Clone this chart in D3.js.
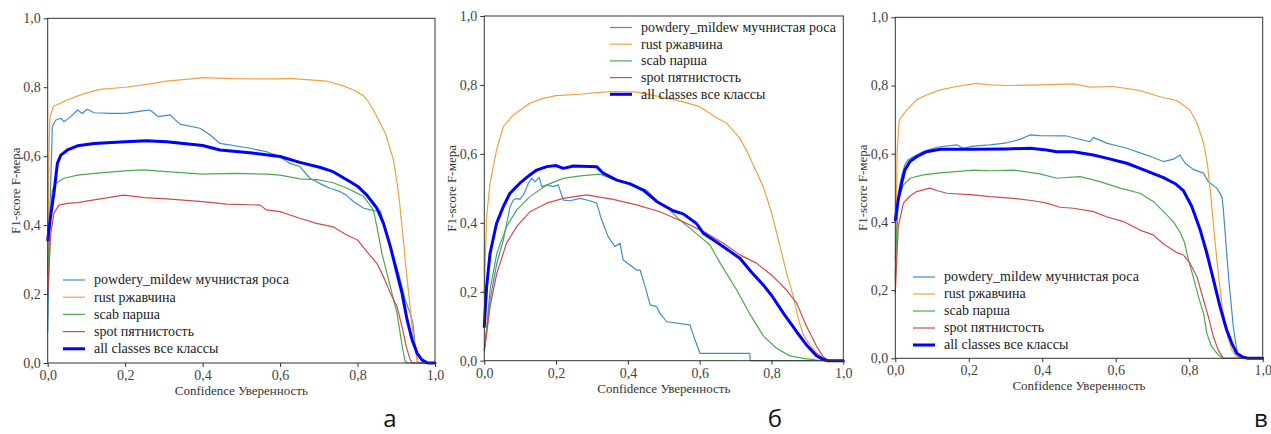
<!DOCTYPE html>
<html>
<head>
<meta charset="utf-8">
<script src="https://cdn.jsdelivr.net/npm/d3@7"></script>
<style>
  html, body { margin: 0; padding: 0; background: #fff; }
  svg { display: block; }
  .serif { font-family: 'Liberation Serif', 'Times New Roman', Tinos, 'DejaVu Serif', 'Noto Serif', serif; }
</style>
</head>
<body>
<svg id="chart" width="1271" height="434"></svg>
<script>
// class names (legend order)
const classNames = [
  'powdery_mildew мучнистая роса',
  'rust ржавчина',
  'scab парша',
  'spot пятнистость',
  'all classes все классы',
];
const panelLetters = ['а', 'б', 'в'];
const axisTicks = [0, 0.2, 0.4, 0.6, 0.8, 1.0];
const xLabel = 'Confidence Уверенность';
const yLabel = 'F1-score F-мера';

// panel а : [confidence, F1]
const powderyA = [[0,0.09],[0.006,0.45],[0.012,0.686],[0.021,0.705],[0.034,0.71],[0.042,0.70],[0.059,0.714],[0.077,0.734],[0.089,0.724],[0.102,0.736],[0.12,0.726],[0.163,0.724],[0.2,0.724],[0.249,0.732],[0.264,0.734],[0.285,0.715],[0.316,0.72],[0.341,0.693],[0.393,0.681],[0.419,0.662],[0.445,0.637],[0.522,0.623],[0.565,0.613],[0.6,0.599],[0.625,0.579],[0.651,0.57],[0.677,0.536],[0.711,0.516],[0.729,0.507],[0.755,0.497],[0.771,0.487],[0.79,0.468],[0.816,0.449],[0.841,0.442],[0.859,0.441],[0.872,0.386],[0.893,0.308],[0.906,0.26],[0.923,0.183],[0.936,0.144],[0.943,0.115],[0.949,0.047],[0.955,0.004],[0.96,0],[1,0]];
const rustA = [[0,0.25],[0.003,0.6],[0.006,0.715],[0.015,0.744],[0.05,0.763],[0.09,0.78],[0.135,0.794],[0.2,0.80],[0.264,0.81],[0.307,0.818],[0.37,0.824],[0.4,0.828],[0.479,0.825],[0.6,0.824],[0.625,0.826],[0.72,0.818],[0.763,0.804],[0.79,0.792],[0.816,0.775],[0.83,0.755],[0.841,0.734],[0.872,0.666],[0.893,0.589],[0.906,0.492],[0.915,0.395],[0.923,0.299],[0.932,0.202],[0.941,0.105],[0.949,0.038],[0.955,0.004],[0.96,0],[1,0]];
const scabA = [[0,0.26],[0.006,0.42],[0.012,0.502],[0.021,0.521],[0.042,0.536],[0.077,0.545],[0.12,0.55],[0.206,0.558],[0.247,0.56],[0.307,0.555],[0.4,0.548],[0.479,0.55],[0.565,0.548],[0.6,0.545],[0.651,0.534],[0.702,0.531],[0.737,0.523],[0.773,0.507],[0.8,0.492],[0.816,0.483],[0.841,0.444],[0.85,0.395],[0.863,0.318],[0.876,0.26],[0.889,0.202],[0.902,0.144],[0.91,0.086],[0.917,0.038],[0.923,0.004],[0.93,0],[1,0]];
const spotA = [[0,0.202],[0.008,0.376],[0.016,0.434],[0.029,0.458],[0.051,0.463],[0.077,0.465],[0.12,0.473],[0.18,0.484],[0.197,0.487],[0.249,0.48],[0.307,0.476],[0.4,0.468],[0.462,0.461],[0.548,0.458],[0.565,0.444],[0.6,0.439],[0.651,0.42],[0.694,0.405],[0.737,0.395],[0.771,0.372],[0.8,0.357],[0.824,0.323],[0.85,0.289],[0.867,0.25],[0.885,0.202],[0.902,0.163],[0.915,0.105],[0.926,0.047],[0.936,0.009],[0.942,0],[1,0]];
const allA = [[0,0.357],[0.008,0.43],[0.016,0.492],[0.025,0.579],[0.034,0.603],[0.051,0.618],[0.077,0.63],[0.12,0.637],[0.2,0.642],[0.255,0.645],[0.307,0.642],[0.4,0.631],[0.445,0.618],[0.522,0.61],[0.6,0.599],[0.651,0.582],[0.702,0.568],[0.737,0.555],[0.781,0.526],[0.8,0.513],[0.824,0.487],[0.85,0.449],[0.867,0.405],[0.885,0.337],[0.902,0.26],[0.915,0.202],[0.928,0.125],[0.941,0.067],[0.954,0.028],[0.966,0.009],[0.979,0.001],[0.99,0],[1,0]];

// panel б
const powderyB = [[0,0.031],[0.016,0.176],[0.035,0.283],[0.053,0.35],[0.072,0.447],[0.081,0.466],[0.09,0.471],[0.099,0.468],[0.109,0.481],[0.123,0.515],[0.132,0.529],[0.141,0.519],[0.153,0.532],[0.16,0.505],[0.174,0.51],[0.192,0.505],[0.206,0.51],[0.22,0.466],[0.239,0.464],[0.267,0.471],[0.294,0.464],[0.313,0.457],[0.327,0.408],[0.345,0.36],[0.364,0.331],[0.378,0.341],[0.387,0.292],[0.424,0.263],[0.434,0.263],[0.448,0.215],[0.462,0.162],[0.48,0.157],[0.489,0.138],[0.508,0.113],[0.573,0.104],[0.582,0.075],[0.601,0.021],[0.74,0.021],[0.7405,0],[1,0]];
const rustB = [[0,0.195],[0.0065,0.418],[0.016,0.515],[0.034,0.611],[0.053,0.679],[0.081,0.713],[0.127,0.747],[0.164,0.761],[0.2,0.769],[0.266,0.773],[0.331,0.779],[0.369,0.781],[0.424,0.779],[0.499,0.764],[0.554,0.751],[0.6,0.737],[0.647,0.705],[0.675,0.689],[0.712,0.645],[0.735,0.6],[0.757,0.55],[0.777,0.505],[0.8,0.43],[0.824,0.331],[0.842,0.254],[0.861,0.186],[0.875,0.12],[0.889,0.075],[0.907,0.045],[0.926,0.023],[0.944,0.007],[0.955,0],[1,0]];
const scabB = [[0,0.03],[0.007,0.1],[0.016,0.205],[0.035,0.312],[0.062,0.389],[0.09,0.437],[0.127,0.476],[0.174,0.51],[0.22,0.529],[0.267,0.536],[0.322,0.541],[0.359,0.526],[0.406,0.515],[0.434,0.5],[0.452,0.495],[0.489,0.457],[0.517,0.437],[0.545,0.408],[0.601,0.36],[0.629,0.335],[0.657,0.283],[0.703,0.205],[0.74,0.135],[0.777,0.072],[0.814,0.036],[0.851,0.014],[0.889,0.007],[0.926,0.002],[0.95,0],[1,0]];
const spotB = [[0,0.03],[0.002,0.041],[0.016,0.157],[0.035,0.254],[0.062,0.341],[0.09,0.389],[0.127,0.432],[0.174,0.457],[0.22,0.471],[0.285,0.481],[0.313,0.476],[0.359,0.468],[0.424,0.452],[0.489,0.432],[0.554,0.403],[0.619,0.37],[0.666,0.341],[0.712,0.307],[0.758,0.283],[0.805,0.244],[0.842,0.205],[0.87,0.167],[0.898,0.099],[0.926,0.041],[0.944,0.012],[0.958,0],[1,0]];
const allB = [[0,0.099],[0.0065,0.215],[0.016,0.311],[0.034,0.398],[0.053,0.447],[0.071,0.485],[0.099,0.515],[0.127,0.539],[0.146,0.553],[0.174,0.563],[0.2,0.566],[0.22,0.558],[0.248,0.565],[0.313,0.563],[0.331,0.544],[0.369,0.524],[0.406,0.513],[0.443,0.495],[0.48,0.462],[0.526,0.435],[0.554,0.426],[0.591,0.398],[0.61,0.37],[0.656,0.338],[0.712,0.297],[0.745,0.256],[0.777,0.22],[0.8,0.19],[0.833,0.138],[0.87,0.084],[0.898,0.045],[0.926,0.014],[0.944,0.004],[0.955,0],[1,0]];

// panel в
const powderyC = [[0,0.239],[0.008,0.484],[0.017,0.533],[0.026,0.567],[0.035,0.582],[0.049,0.591],[0.076,0.606],[0.113,0.619],[0.167,0.626],[0.185,0.616],[0.212,0.622],[0.258,0.626],[0.303,0.632],[0.339,0.642],[0.367,0.655],[0.394,0.653],[0.466,0.652],[0.53,0.635],[0.539,0.648],[0.575,0.631],[0.63,0.616],[0.684,0.596],[0.73,0.577],[0.757,0.584],[0.775,0.596],[0.789,0.572],[0.811,0.554],[0.839,0.543],[0.852,0.518],[0.875,0.499],[0.889,0.474],[0.893,0.435],[0.9,0.337],[0.907,0.239],[0.913,0.171],[0.92,0.093],[0.928,0.034],[0.934,0.005],[0.94,0],[1,0]];
const rustC = [[0,0.22],[0.005,0.611],[0.011,0.699],[0.031,0.728],[0.058,0.758],[0.085,0.772],[0.122,0.787],[0.167,0.797],[0.221,0.806],[0.258,0.802],[0.303,0.8],[0.394,0.802],[0.485,0.805],[0.53,0.795],[0.593,0.797],[0.666,0.785],[0.72,0.767],[0.766,0.756],[0.802,0.728],[0.821,0.69],[0.839,0.632],[0.85,0.565],[0.859,0.475],[0.868,0.367],[0.879,0.25],[0.89,0.15],[0.902,0.073],[0.916,0.024],[0.929,0.005],[0.935,0],[1,0]];
const scabC = [[0,0.288],[0.008,0.464],[0.022,0.508],[0.04,0.528],[0.076,0.538],[0.122,0.544],[0.212,0.552],[0.258,0.55],[0.321,0.552],[0.394,0.541],[0.439,0.528],[0.503,0.533],[0.557,0.518],[0.612,0.499],[0.666,0.484],[0.702,0.46],[0.73,0.43],[0.757,0.4],[0.775,0.37],[0.787,0.34],[0.798,0.288],[0.811,0.239],[0.825,0.181],[0.839,0.132],[0.848,0.073],[0.861,0.034],[0.879,0.01],[0.893,0],[1,0]];
const spotC = [[0,0.191],[0.008,0.386],[0.022,0.455],[0.04,0.476],[0.058,0.489],[0.094,0.499],[0.113,0.492],[0.14,0.484],[0.212,0.479],[0.258,0.474],[0.321,0.469],[0.376,0.462],[0.412,0.455],[0.448,0.443],[0.485,0.44],[0.539,0.43],[0.575,0.415],[0.621,0.401],[0.666,0.376],[0.702,0.362],[0.73,0.335],[0.766,0.31],[0.784,0.303],[0.802,0.279],[0.821,0.239],[0.839,0.171],[0.852,0.122],[0.866,0.063],[0.879,0.024],[0.893,0],[1,0]];
const allC = [[0,0.406],[0.008,0.464],[0.017,0.513],[0.026,0.552],[0.04,0.577],[0.058,0.591],[0.085,0.606],[0.122,0.613],[0.212,0.613],[0.303,0.614],[0.367,0.616],[0.412,0.611],[0.439,0.606],[0.485,0.606],[0.539,0.596],[0.575,0.587],[0.63,0.572],[0.666,0.557],[0.711,0.538],[0.73,0.53],[0.762,0.512],[0.784,0.492],[0.807,0.445],[0.83,0.376],[0.848,0.308],[0.866,0.23],[0.884,0.151],[0.902,0.083],[0.916,0.044],[0.929,0.015],[0.947,0.003],[0.96,0],[1,0]];

const seriesColors = ['#3f8fc6', '#f4a03e', '#4fa84f', '#d24a4a', '#0000ff'];
const seriesWidths = [1.2, 1.2, 1.2, 1.2, 3];

const panels = [
  { series: [powderyA, rustA, scabA, spotA, allA], box: { l: 47.7, r: 435, t: 18.3, b: 363 },
    legend: { x: 63, y: 280, dy: 17.2 }, letter: { x: 390, y: 427, anchor: 'middle' } },
  { series: [powderyB, rustB, scabB, spotB, allB], box: { l: 484.3, r: 843.3, t: 16, b: 360.7 },
    legend: { x: 610, y: 27.5, dy: 16.7 }, letter: { x: 775, y: 427, anchor: 'middle' } },
  { series: [powderyC, rustC, scabC, spotC, allC], box: { l: 895.3, r: 1262.7, t: 17.3, b: 358.3 },
    legend: { x: 913, y: 277, dy: 17 }, letter: { x: 1254, y: 427, anchor: 'start' } },
];

const svg = d3.select('#chart');
const fmt = (d) => d3.format('.1f')(d).replace('.', ',');

panels.forEach((p, pi) => {
  const { l, r, t, b } = p.box;
  const x = d3.scaleLinear().domain([0, 1]).range([l, r]);
  const y = d3.scaleLinear().domain([0, 1]).range([b, t]);
  const g = svg.append('g');

  const line = d3.line().x((d) => x(d[0])).y((d) => y(d[1]));
  p.series.forEach((s, i) => {
    g.append('path').datum(s).attr('d', line).attr('fill', 'none')
      .attr('stroke', seriesColors[i]).attr('stroke-width', seriesWidths[i])
      .attr('stroke-linejoin', 'round').attr('stroke-linecap', 'round');
  });

  // frame
  g.append('rect').attr('x', l).attr('y', t).attr('width', r - l).attr('height', b - t)
    .attr('fill', 'none').attr('stroke', '#333').attr('stroke-width', 1);

  const xAxis = g.append('g').attr('transform', `translate(0,${b})`)
    .call(d3.axisBottom(x).tickValues(axisTicks).tickFormat(fmt).tickSize(4).tickPadding(3));
  const yAxis = g.append('g').attr('transform', `translate(${l},0)`)
    .call(d3.axisLeft(y).tickValues(axisTicks).tickFormat(fmt).tickSize(4).tickPadding(3));
  [xAxis, yAxis].forEach((ax) => {
    ax.attr('font-family', null);
    ax.select('.domain').remove();
    ax.selectAll('line').attr('stroke', '#333');
    ax.selectAll('text').attr('class', 'serif').style('font-size', '14px').attr('fill', '#444');
  });

  g.append('text').attr('class', 'serif').attr('x', (l + r) / 2).attr('y', b + 32).attr('text-anchor', 'middle')
    .style('font-size', '13px').attr('fill', '#333').text(xLabel);
  g.append('text').attr('class', 'serif').attr('transform', `translate(${l - 28},${(t + b) / 2}) rotate(-90)`)
    .attr('text-anchor', 'middle').style('font-size', '13px')
    .attr('fill', '#333').text(yLabel);

  // legend
  classNames.forEach((name, i) => {
    const ly = p.legend.y + i * p.legend.dy;
    g.append('line').attr('x1', p.legend.x).attr('x2', p.legend.x + 22).attr('y1', ly).attr('y2', ly)
      .attr('stroke', seriesColors[i]).attr('stroke-width', seriesWidths[i]);
    g.append('text').attr('class', 'serif').attr('x', p.legend.x + 31).attr('y', ly).attr('dy', '0.32em')
      .style('font-size', '14px').attr('fill', '#222').text(name);
  });

  g.append('text').attr('x', p.letter.x).attr('y', p.letter.y).attr('text-anchor', p.letter.anchor)
    .style('font-family', "'Open Sans', sans-serif").style('font-size', '24px').attr('fill', '#111')
    .text(panelLetters[pi]);
});
</script>
</body>
</html>
